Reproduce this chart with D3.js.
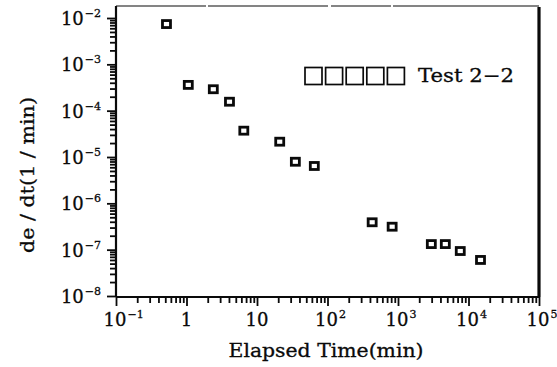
<!DOCTYPE html>
<html>
<head>
<meta charset="utf-8">
<script src="https://cdn.jsdelivr.net/npm/d3@7"></script>
<style>
  html, body { margin: 0; padding: 0; background: #fff; }
  svg { display: block; font-family: "DejaVu Serif", "Liberation Serif", serif; }
</style>
</head>
<body>
<svg id="chart" width="557" height="367"></svg>
<script>
// Creep strain rate vs. elapsed time, Test 2-2
const elapsedTime = [0.52, 1.06, 2.4, 4.07, 6.5, 21, 35, 65, 430, 826, 2970, 4690, 7640, 14800];
const strainRate  = [7.4e-3, 3.6e-4, 2.9e-4, 1.56e-4, 3.7e-5, 2.14e-5, 7.9e-6, 6.4e-6,
                     3.9e-7, 3.13e-7, 1.32e-7, 1.32e-7, 9.35e-8, 6.0e-8];

const xDecades = [-1, 0, 1, 2, 3, 4, 5];
const yDecades = [-2, -3, -4, -5, -6, -7, -8];
const xTickText = ["10|−1", "1", "10", "10|2", "10|3", "10|4", "10|5"];
const yTickText = ["10|−2", "10|−3", "10|−4", "10|−5", "10|−6", "10|−7", "10|−8"];
const legendLabel = "Test 2−2";
const xTitle = "Elapsed Time(min)";
const yTitle = "de / dt(1 / min)";

const svg = d3.select("#chart");
const ink = "#0a0a0a";

const x = d3.scaleLog().domain([0.1, 1e5]).range([116, 539]);
const y = d3.scaleLog().domain([1e-8, 1e-2]).range([296, 18]);
const yTop = Math.pow(10, -1.74);

// minor tick values for each decade
function minors(lo, hi) {
  const out = [];
  for (let e = lo; e < hi; e++)
    for (let m = 2; m <= 9; m++) out.push(m * Math.pow(10, e));
  return out;
}

// frame
const x0 = x(0.1), x1 = x(1e5), yb = y(1e-8) + 1, yt = y(yTop);
svg.append("line").attr("x1", x0).attr("x2", x1).attr("y1", yt).attr("y2", yt)
  .attr("stroke", ink).attr("stroke-width", 1.1).attr("stroke-dasharray", "90 2 120 3 60 2 150");
svg.append("line").attr("x1", x1).attr("x2", x1).attr("y1", yt + 1).attr("y2", yb)
  .attr("stroke", ink).attr("stroke-width", 3.2);

// bottom axis
const gx = svg.append("g").attr("transform", `translate(0,${yb})`);
gx.call(d3.axisBottom(x).tickValues(xDecades.map(e => Math.pow(10, e))).tickSize(9).tickFormat(""));
const gxm = svg.append("g").attr("transform", `translate(0,${yb})`);
gxm.call(d3.axisBottom(x).tickValues(minors(-1, 5)).tickSize(6).tickFormat(""));
gxm.select(".domain").remove();

// left axis
const gy = svg.append("g").attr("transform", `translate(${x0},0)`);
gy.call(d3.axisLeft(y).tickValues(yDecades.map(e => Math.pow(10, e))).tickSize(9).tickFormat(""));
const gym = svg.append("g").attr("transform", `translate(${x0},0)`);
gym.call(d3.axisLeft(y).tickValues(minors(-8, -2)).tickSize(6).tickFormat(""));
gym.select(".domain").remove();

svg.selectAll(".domain").attr("stroke", ink).attr("stroke-width", 2.2);
gx.select(".domain").attr("d", `M${x0},0H${x1}`);
gy.select(".domain").attr("d", `M0,${yb}V${yt}`);
svg.selectAll(".tick line").attr("stroke", ink).attr("stroke-width", 1.8);

// tick labels with superscripts
function label(g, txt, size, supSize) {
  const parts = txt.split("|");
  g.append("tspan").attr("font-size", size).text(parts[0]);
  if (parts.length > 1)
    g.append("tspan").attr("font-size", supSize).attr("dy", -8).attr("dx", 1).text(parts[1]);
}

xDecades.forEach((e, i) => {
  const hasSup = xTickText[i].includes("|");
  const t = svg.append("text").attr("y", 326)
    .attr("text-anchor", hasSup ? "start" : "middle").attr("fill", ink)
    .attr("stroke", ink).attr("stroke-width", 0.3);
  label(t, xTickText[i], 18, 11);
  if (hasSup) {
    const base = t.select("tspan").node().getComputedTextLength();
    t.attr("x", x(Math.pow(10, e)) - base / 2 - 1);
  } else {
    t.attr("x", x(Math.pow(10, e)));
  }
});

yDecades.forEach((e, i) => {
  const t = svg.append("text").attr("x", 101).attr("y", y(Math.pow(10, e)) + 7)
    .attr("text-anchor", "end").attr("fill", ink)
    .attr("stroke", ink).attr("stroke-width", 0.3);
  label(t, yTickText[i], 18, 11);
});

// axis titles
svg.append("text").attr("x", 326).attr("y", 357).attr("text-anchor", "middle")
  .attr("font-size", 18).attr("fill", ink).attr("stroke", ink).attr("stroke-width", 0.3)
  .attr("textLength", 195).attr("lengthAdjust", "spacingAndGlyphs").text(xTitle);
svg.append("text").attr("transform", "translate(34,175) rotate(-90)").attr("text-anchor", "middle")
  .attr("font-size", 18).attr("fill", ink).attr("stroke", ink).attr("stroke-width", 0.3)
  .attr("textLength", 156).attr("lengthAdjust", "spacingAndGlyphs").text(yTitle);

// data markers: small hollow squares
const pts = elapsedTime.map((t, i) => ({ t, r: strainRate[i] }));
svg.append("g").selectAll("rect").data(pts).join("rect")
  .attr("x", d => x(d.t) - 4).attr("y", d => y(d.r) - 3.5)
  .attr("width", 8).attr("height", 7)
  .attr("fill", "#fff").attr("stroke", ink).attr("stroke-width", 2.8);

// legend
const lg = svg.append("g");
d3.range(5).forEach(i => {
  lg.append("rect").attr("x", 305 + i * 20.6).attr("y", 67.5).attr("width", 17).attr("height", 17)
    .attr("fill", "#fff").attr("stroke", ink).attr("stroke-width", 1.7);
});
lg.append("text").attr("x", 418).attr("y", 82).attr("font-size", 19).attr("fill", ink)
  .attr("stroke", ink).attr("stroke-width", 0.3)
  .attr("textLength", 96).attr("lengthAdjust", "spacingAndGlyphs").text(legendLabel);
</script>
</body>
</html>
